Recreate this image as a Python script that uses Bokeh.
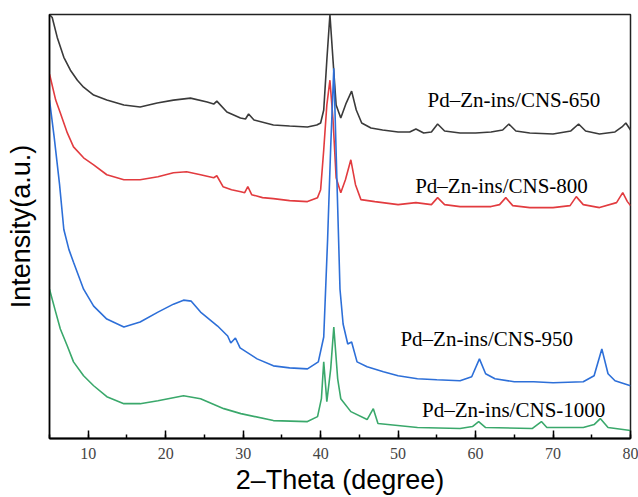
from bokeh.plotting import figure
from bokeh.models import Range1d, SingleIntervalTicker, FixedTicker, Label, LinearAxis
from bokeh.embed import file_html
from bokeh.resources import INLINE

# ---- data (2-theta in degrees, offset intensity in a.u.) ----
theta_650 = [5.0, 5.35, 6.0, 6.85, 7.7, 8.6, 9.4, 10.7, 12.4, 14.6, 16.7, 18.9, 21.0, 23.2, 25.35,
             26.2, 26.6, 27.9, 29.65, 30.3, 30.7, 31.4, 33.9, 36.0, 38.3, 39.5, 40.0, 40.4, 40.8,
             41.2, 41.6, 42.0, 42.6, 43.3, 44.0, 44.6, 45.3, 46.5, 48.0, 50.0, 51.5, 52.3, 53.3,
             54.3, 55.1, 56.0, 58.0, 60.0, 62.0, 63.5, 64.3, 65.2, 67.0, 70.0, 72.3, 73.3, 74.2,
             76.0, 78.0, 78.9, 79.4, 80.0]
int_650 = [426, 423, 403, 383, 370, 360, 353, 345, 340, 335, 333, 337, 340, 342, 338,
           336, 339, 328, 322, 321, 326, 320, 315, 314, 313, 315, 317, 330, 380,
           426, 380, 335, 322, 337, 349, 330, 317, 312, 310, 308, 308, 311, 307,
           308, 316, 309, 307, 307, 308, 310, 316, 309, 307, 306, 309, 316, 309,
           306, 308, 313, 317, 310]

theta_800 = [5.0, 5.1, 5.8, 6.4, 7.3, 8.1, 9.4, 10.7, 12.4, 14.6, 16.7, 19.0, 21.0, 22.7, 24.5,
             26.2, 26.6, 27.4, 28.5, 29.7, 30.2, 30.6, 31.1, 32.5, 33.9, 36.0, 38.3, 39.6, 40.0,
             40.4, 40.8, 41.2, 41.6, 42.0, 42.6, 43.2, 43.9, 44.5, 45.2, 47.0, 50.0, 52.3, 54.3,
             55.1, 56.0, 58.0, 60.0, 62.0, 63.1, 63.9, 64.8, 67.0, 70.0, 72.2, 73.0, 73.9, 76.0,
             78.2, 79.0, 79.6, 80.0]
int_800 = [366, 363, 340, 327, 307, 293, 282, 275, 265, 260, 260, 263, 267, 268, 265,
           262, 264, 253, 250, 248, 247, 253, 245, 242, 241, 239, 238, 242, 250,
           290, 335, 360, 320, 262, 247, 260, 280, 255, 240, 238, 235, 237, 235,
           242, 235, 233, 233, 233, 235, 242, 234, 232, 232, 234, 243, 235, 232,
           237, 247, 238, 234]

theta_950 = [5.0, 5.6, 6.3, 6.85, 7.5, 8.1, 9.4, 10.7, 12.4, 14.6, 16.7, 19.0, 21.0, 22.3,
             23.3, 24.5, 26.7, 28.0, 28.4, 29.0, 29.6, 31.8, 33.9, 36.0, 38.3, 39.7, 40.4, 40.9,
             41.3, 41.7, 42.1, 42.5, 42.9, 43.5, 44.0, 44.7, 46.0, 48.1, 50.0, 52.5, 55.0, 58.0,
             59.5, 60.5, 61.3, 62.5, 65.0, 67.5, 70.0, 73.9, 75.3, 76.3, 77.1, 78.0, 80.0]
int_950 = [340, 303, 255, 210, 190, 177, 150, 133, 120, 112, 117, 127, 135, 139,
           138, 127, 113, 103, 96, 101, 91, 80, 73, 71, 70, 77, 102, 200,
           293, 372, 260, 150, 115, 95, 97, 77, 72, 67, 63, 60, 59, 58,
           62, 80, 65, 60, 57, 57, 56, 57, 63, 90, 65, 58, 53]

theta_1000 = [5.0, 5.8, 6.4, 7.3, 8.1, 9.4, 10.7, 12.4, 14.6, 16.7, 19.0, 22.3, 24.5, 27.5, 29.7,
              33.9, 38.3, 39.6, 40.1, 40.4, 40.8, 41.3, 41.7, 42.2, 42.6, 43.9, 46.0, 46.8, 47.4,
              52.5, 58.0, 59.6, 60.4, 61.3, 67.3, 68.5, 69.2, 73.9, 75.3, 76.1, 77.1, 80.0]
int_1000 = [150, 127, 110, 93, 77, 63, 53, 42, 35, 35, 38, 43, 40, 30, 25,
            18, 17, 22, 40, 77, 37, 70, 112, 60, 40, 27, 19, 30, 15,
            11, 10, 12, 17, 11, 10, 17, 11, 11, 14, 20, 11, 8]

series_names = ["Pd\u2013Zn-ins/CNS-650", "Pd\u2013Zn-ins/CNS-800",
                "Pd\u2013Zn-ins/CNS-950", "Pd\u2013Zn-ins/CNS-1000"]
x_title = "2\u2013Theta (degree)"
y_title = "Intensity(a.u.)"

# ---- styling / layout ----
colors = ["#3a3a3a", "#e23b3f", "#2d6fd8", "#3aa86b"]
label_pos = [(53.8, 340), (52.2, 254), (50.3, 100), (53.1, 29)]

p = figure(width=638, height=497, output_backend="svg", toolbar_location=None,
           x_range=Range1d(5, 80), y_range=Range1d(0, 426),
           x_axis_location=None, y_axis_location=None,
           min_border_left=49, min_border_right=8,
           min_border_top=14, min_border_bottom=57)
p.background_fill_color = "white"
p.border_fill_color = "white"
p.grid.visible = False
p.outline_line_color = "#222222"
p.outline_line_width = 1.5

ax = LinearAxis(ticker=SingleIntervalTicker(interval=10, num_minor_ticks=2))
ax.axis_line_color = "black"
ax.axis_line_width = 2
ax.major_tick_in = 8
ax.major_tick_out = 0
ax.minor_tick_in = 4
ax.minor_tick_out = 0
ax.major_tick_line_width = 1.5
ax.minor_tick_line_width = 1.5
ax.major_label_text_font = "Liberation Serif"
ax.major_label_text_font_size = "16px"
ax.major_label_text_color = "#444444"
ax.major_label_standoff = 9
ax.axis_label = x_title
ax.axis_label_text_font = "Liberation Sans"
ax.axis_label_text_font_size = "27px"
ax.axis_label_text_font_style = "normal"
ax.axis_label_text_color = "black"
ax.axis_label_standoff = 3
p.add_layout(ax, "below")

ay = LinearAxis(ticker=FixedTicker(ticks=[]), major_tick_in=0, major_tick_out=0,
                minor_tick_in=0, minor_tick_out=0, major_label_standoff=0)
ay.axis_line_color = "black"
ay.axis_line_width = 1.5
ay.axis_label = y_title
ay.axis_label_text_font = "Liberation Sans"
ay.axis_label_text_font_size = "27px"
ay.axis_label_text_font_style = "normal"
ay.axis_label_text_color = "black"
ay.axis_label_standoff = 14
p.add_layout(ay, "left")

for th, iv, c in zip([theta_650, theta_800, theta_950, theta_1000],
                     [int_650, int_800, int_950, int_1000], colors):
    p.line(th, iv, line_color=c, line_width=1.6)

for name, (lx, ly) in zip(series_names, label_pos):
    p.add_layout(Label(x=lx, y=ly, text=name, text_font="Liberation Serif",
                       text_font_size="21px", text_color="black",
                       text_align="left", text_baseline="alphabetic"))

open("out.html", "w").write(file_html(p, INLINE))
